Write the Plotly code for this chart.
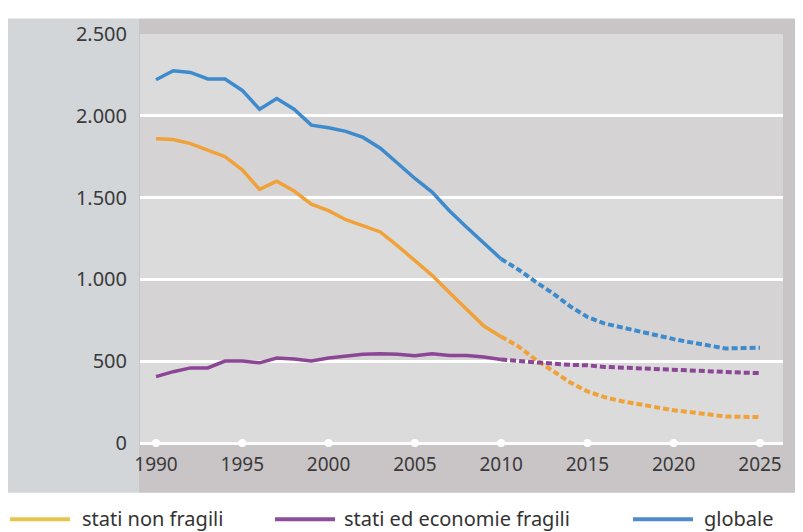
import plotly.graph_objects as go

# ---------------- data ----------------
years_hist = list(range(1990, 2011))
years_proj = list(range(2010, 2026))

non_fragili_hist = [1860, 1855, 1830, 1790, 1750, 1670, 1550, 1600, 1540, 1460, 1420, 1365,
                    1330, 1290, 1205, 1115, 1025, 920, 815, 715, 650]
non_fragili_proj = [650, 590, 510, 440, 370, 315, 280, 255, 235, 215, 200, 188, 175, 162, 160, 158]

fragili_hist = [406, 436, 459, 459, 501, 501, 490, 519, 513, 501, 519, 531,
                543, 545, 543, 533, 545, 535, 535, 525, 510]
fragili_proj = [510, 500, 490, 485, 478, 475, 465, 460, 455, 450, 447, 443, 438, 434, 430, 427]

globale_hist = [2220, 2275, 2265, 2225, 2225, 2155, 2040, 2105, 2040, 1943, 1927, 1905,
                1868, 1802, 1710, 1617, 1534, 1420, 1319, 1223, 1125]
globale_proj = [1125, 1060, 985, 915, 835, 770, 730, 705, 685, 660, 635, 615, 595, 578, 580, 582]

x_ticks = [1990, 1995, 2000, 2005, 2010, 2015, 2020, 2025]
y_ticks = [0, 500, 1000, 1500, 2000, 2500]
y_ticktext = ["0", "500", "1.000", "1.500", "2.000", "2.500"]

series_names = ["stati non fragili", "stati ed economie fragili", "globale"]
line_colors = ["#f0a239", "#8c4696", "#3d8bcc"]
legend_colors = ["#e6c44e", "#8c4f9b", "#4f8bc9"]

# ---------------- geometry ----------------
OFF = 8                      # page body margin
W, H = 803 - OFF, 532 - OFF  # figure size
L, R, T, B = 140, 783, 24, 443  # plot area box in window pixels
PW, PH = R - L, B - T


def px(x):
    return (x - L) / PW


def py(y):
    return (B - y) / PH


FONT = "Noto Sans"

fig = go.Figure()

hist = [non_fragili_hist, fragili_hist, globale_hist]
proj = [non_fragili_proj, fragili_proj, globale_proj]
for name, h, p, c in zip(series_names, hist, proj, line_colors):
    fig.add_trace(go.Scatter(x=years_hist, y=h, mode="lines", name=name,
                             line=dict(color=c, width=3.5), showlegend=False,
                             hoverinfo="x+y"))
    fig.add_trace(go.Scatter(x=years_proj, y=p, mode="lines", name=name,
                             line=dict(color=c, width=4, dash="6px,3px"),
                             showlegend=False, hoverinfo="x+y"))

# white dots on the base line at the year ticks
fig.add_trace(go.Scatter(x=x_ticks, y=[y_ticks[0]] * len(x_ticks), mode="markers",
                         marker=dict(color="white", size=8), cliponaxis=False,
                         showlegend=False, hoverinfo="skip"))

shapes = []
# left light panel
shapes.append(dict(type="rect", xref="paper", yref="paper", x0=px(8), x1=px(139),
                   y0=py(494), y1=py(8), fillcolor="#d3d6d9", line_width=0, layer="below"))
# darker frame around plot
shapes.append(dict(type="rect", xref="paper", yref="paper", x0=px(139), x1=px(810),
                   y0=py(494), y1=py(8), fillcolor="#c9c5c6", line_width=0, layer="below"))
# alternating bands
for i in range(len(y_ticks) - 1):
    col = "#dcdbdb" if i % 2 == 0 else "#d6d3d4"
    shapes.append(dict(type="rect", xref="paper", yref="y", x0=0, x1=1,
                       y0=y_ticks[i], y1=y_ticks[i + 1], fillcolor=col,
                       line_width=0, layer="below"))

# legend (manual, matching reference spacing)
leg_line_x = [(10, 70), (275, 335), (633, 693)]
leg_text_x = [80, 342, 702]
leg_y = 521
annotations = []
for (x0, x1), tx, name, col in zip(leg_line_x, leg_text_x, series_names, legend_colors):
    shapes.append(dict(type="line", xref="paper", yref="paper", x0=px(x0), x1=px(x1),
                       y0=py(leg_y), y1=py(leg_y), line=dict(color=col, width=4)))
    annotations.append(dict(text=name, xref="paper", yref="paper", x=px(tx), y=py(leg_y - 1),
                            xanchor="left", yanchor="middle", showarrow=False,
                            font=dict(family=FONT, size=20, color="#333333")))

fig.update_layout(
    width=W, height=H, autosize=False,
    margin=dict(l=L - OFF, r=803 - R, t=T - OFF, b=532 - B, pad=0),
    paper_bgcolor="white", plot_bgcolor="rgba(0,0,0,0)",
    shapes=shapes, annotations=annotations, showlegend=False,
    font=dict(family=FONT, color="#3a3a3a"),
)
fig.update_xaxes(range=[1990 - 16 / 17.257, 2025 + 23 / 17.257], tickvals=x_ticks,
                 showgrid=False, zeroline=False, showline=False, ticks="",
                 tickfont=dict(size=19, color="#3a3a3a"), ticklabelstandoff=8)
fig.update_yaxes(range=[0, 2500], tickvals=y_ticks, ticktext=y_ticktext,
                 showgrid=True, gridcolor="white", gridwidth=2.5,
                 zeroline=True, zerolinecolor="white", zerolinewidth=2.5,
                 showline=False, ticks="", tickfont=dict(size=20, color="#3a3a3a"),
                 ticklabelstandoff=12)

fig.write_html("out.html")
